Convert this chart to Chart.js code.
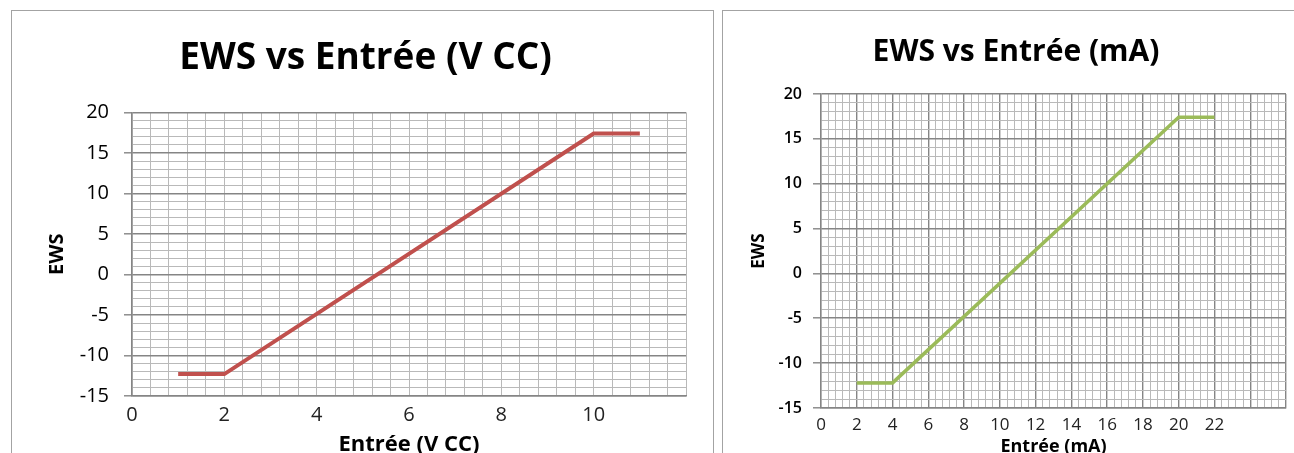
<!DOCTYPE html>
<html>
<head>
    <title>EWS vs Entrée</title>
    <script src="https://cdn.jsdelivr.net/npm/chart.js"></script>
    <style>
        html, body { margin: 0; padding: 0; background: #fff; overflow: hidden; }
        body { width: 1294px; height: 453px; position: relative; }
        .panel { position: absolute; top: 10px; height: 470px; border: 1px solid #a3a3a3; background: #fff; }
        #leftPanel { left: 11px; width: 701px; }
        #rightPanel { left: 722px; width: 600px; }
        canvas { display: block; }
    </style>
</head>
<body>
    <div class="panel" id="leftPanel"><canvas id="vccChart" width="700" height="460"></canvas></div>
    <div class="panel" id="rightPanel"><canvas id="maChart" width="571" height="460"></canvas></div>

    <script>
        // values
        const vccInput = [1, 2, 10, 11];
        const vccEws = [-12.3, -12.3, 17.4, 17.4];
        const maInput = [2, 4, 20, 22];
        const maEws = [-12.2, -12.2, 17.4, 17.4];

        // tick labels shown on the axes
        const vccTicks = [0, 2, 4, 6, 8, 10];
        const maTicks = [0, 2, 4, 6, 8, 10, 12, 14, 16, 18, 20, 22];
        const ewsTicks = [-15, -10, -5, 0, 5, 10, 15, 20];

        const FONT = "'Open Sans', sans-serif";

        function near(v, list) {
            return list.some(t => Math.abs(t - v) < 1e-6);
        }
        function toPoints(xs, ys) {
            return xs.map((x, i) => ({ x: x, y: ys[i] }));
        }

        function makeChart(id, cfg) {
            const ctx = document.getElementById(id).getContext('2d');
            return new Chart(ctx, {
                type: 'line',
                data: {
                    datasets: [{
                        data: toPoints(cfg.xs, cfg.ys),
                        borderColor: cfg.color,
                        borderWidth: cfg.lineWidth,
                        pointRadius: 0,
                        tension: 0,
                        fill: false
                    }]
                },
                options: {
                    responsive: false,
                    animation: false,
                    devicePixelRatio: 1,
                    layout: { padding: { left: cfg.padLeft, right: cfg.padRight, top: 0, bottom: 0 } },
                    plugins: {
                        legend: { display: false },
                        tooltip: { enabled: false },
                        title: {
                            display: true,
                            text: cfg.title,
                            color: '#000',
                            font: { family: FONT, size: cfg.titleSize, weight: 'bold' },
                            padding: { top: cfg.titleTop, bottom: cfg.titleBottom }
                        }
                    },
                    scales: {
                        x: {
                            type: 'linear',
                            min: 0,
                            max: cfg.xMax,
                            afterFit: s => { s.height = cfg.xHeight; },
                            ticks: {
                                stepSize: 0.4,
                                autoSkip: false,
                                maxRotation: 0,
                                padding: cfg.xTickPad,
                                color: '#222',
                                font: { family: FONT, size: cfg.xTickSize },
                                callback: v => near(v, cfg.xLabels) ? String(Math.round(v)) : ''
                            },
                            grid: {
                                drawTicks: false,
                                color: c => (cfg.xMajor && near(c.tick.value % 2, [0, 2])) ? '#858585' : '#b9b9b9',
                                lineWidth: c => (cfg.xMajor && near(c.tick.value % 2, [0, 2])) ? 1.4 : 1
                            },
                            border: { color: '#858585', width: 1.4 },
                            title: {
                                display: true,
                                text: cfg.xTitle,
                                color: '#000',
                                font: { family: FONT, size: cfg.xTitleSize, weight: 'bold' },
                                padding: { top: 0, bottom: cfg.xTitlePad }
                            }
                        },
                        y: {
                            min: -15,
                            max: 20,
                            afterFit: s => { s.width = cfg.yWidth; },
                            ticks: {
                                stepSize: 1,
                                autoSkip: false,
                                padding: cfg.yTickPad,
                                color: '#000',
                                font: { family: FONT, size: cfg.yTickSize, weight: cfg.yTickWeight },
                                callback: v => near(v, ewsTicks) ? String(v) : ''
                            },
                            grid: {
                                tickLength: 8,
                                color: c => c.tick.value % 5 === 0 ? '#858585' : '#b9b9b9',
                                lineWidth: c => c.tick.value % 5 === 0 ? 1.6 : 1,
                                tickColor: c => c.tick.value % 5 === 0 ? '#858585' : 'rgba(0,0,0,0)',
                                tickWidth: 1.4
                            },
                            border: { color: '#858585', width: 1.4 },
                            title: {
                                display: true,
                                text: 'EWS',
                                color: '#000',
                                font: { family: FONT, size: cfg.yTitleSize, weight: 'bold' },
                                padding: { top: cfg.yTitlePad, bottom: 0 }
                            }
                        }
                    }
                }
            });
        }

        makeChart('vccChart', {
            xs: vccInput, ys: vccEws, color: '#c0504d', lineWidth: 4,
            title: 'EWS vs Entrée (V CC)', titleSize: 37, titleTop: 25, titleBottom: 32,
            padLeft: 33, padRight: 26, yWidth: 87, xHeight: 75, xMax: 12,
            xLabels: vccTicks, xMajor: false, xTickPad: 7, xTickSize: 20,
            xTitle: 'Entrée (V CC)', xTitleSize: 22, xTitlePad: 13,
            yTickPad: 15, yTickSize: 20, yTickWeight: 'normal',
            yTitleSize: 20, yTitlePad: 0
        });

        makeChart('maChart', {
            xs: maInput, ys: maEws, color: '#9bbb59', lineWidth: 3.5,
            title: 'EWS vs Entrée (mA)', titleSize: 30, titleTop: 23, titleBottom: 24,
            padLeft: 23, padRight: 8, yWidth: 75, xHeight: 63, xMax: 26,
            xLabels: maTicks, xMajor: true, xTickPad: 7, xTickSize: 17,
            xTitle: 'Entrée (mA)', xTitleSize: 18, xTitlePad: 13,
            yTickPad: 11, yTickSize: 16, yTickWeight: '600',
            yTitleSize: 17, yTitlePad: 3
        });
    </script>
</body>
</html>
